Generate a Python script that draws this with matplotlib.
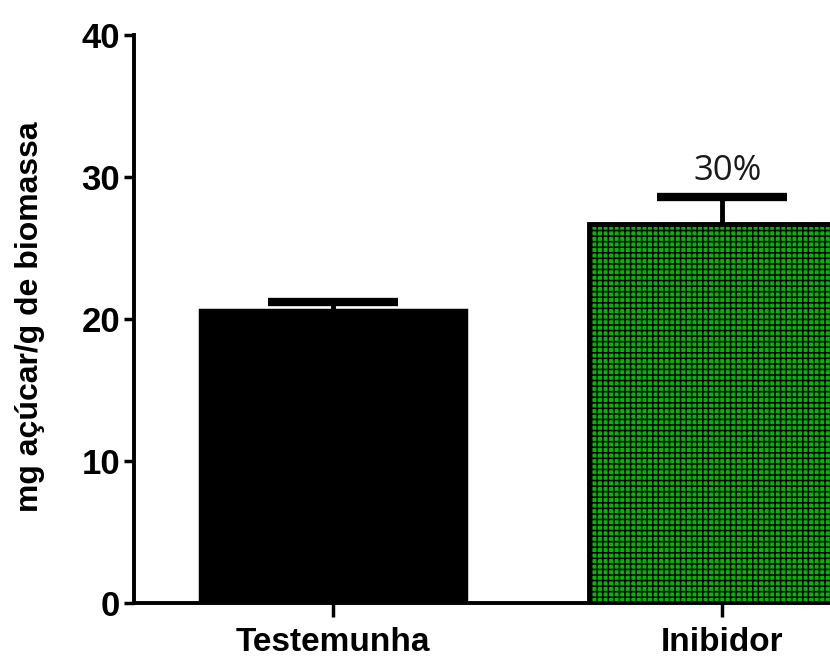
import matplotlib
matplotlib.use("Agg")
import matplotlib.pyplot as plt
import numpy as np

categories = ["Testemunha", "Inibidor"]
means = [20.6, 26.7]
errors = [0.6, 1.9]
yticks = [0, 10, 20, 30, 40]
annotation = "30%"

plt.rcParams['hatch.linewidth'] = 1.1
plt.rcParams['font.family'] = ['Liberation Sans', 'DejaVu Sans']

fig = plt.figure(figsize=(8.3, 6.64), dpi=100)
ax = fig.add_axes([134/830, 61/664, 1.1 - 134/830, (603-35)/664])

x = np.arange(len(categories))
ax.bar(x[0], means[0], width=0.684, color='black', edgecolor='black', linewidth=2.5, zorder=2)
ax.bar(x[1], means[1], width=0.684, color='#00b800', edgecolor='black', linewidth=3.5,
       hatch='+++', zorder=2)

cap = 0.167
tops = [m + e for m, e in zip(means, errors)]
ax.vlines(x, means, tops, color='black', linewidth=3.5, zorder=1)
ax.hlines(tops, x - cap, x + cap, color='black', linewidth=6, zorder=1)

ax.set_ylim(0, 40)
left = 0 - (333 - 134) / 389
right = 1 + (913 - 722) / 389
ax.set_xlim(left, right)
ax.set_yticks(yticks)
ax.set_xticks(x)
ax.set_xticklabels(categories, fontsize=24, fontweight='bold')
ax.set_yticklabels([str(t) for t in yticks], fontsize=25, fontweight='bold')
ax.tick_params(axis='y', length=7, width=2.5, pad=3)
ax.tick_params(axis='x', length=10, width=2.5, pad=7)
for s in ['top', 'right']:
    ax.spines[s].set_visible(False)
for s in ['left', 'bottom']:
    ax.spines[s].set_linewidth(2.8)

ax.text(x[1] + 0.015, tops[1] + 0.6, annotation, ha='center', va='bottom',
        fontsize=25, family=['Open Sans', 'DejaVu Sans'], color='#1a1a1a')

fig.text(30/830, 1 - 317/664, "mg açúcar/g de biomassa", rotation=90,
         ha='center', va='center', fontsize=23, fontweight='bold')

fig.savefig("out.png", dpi=100)
